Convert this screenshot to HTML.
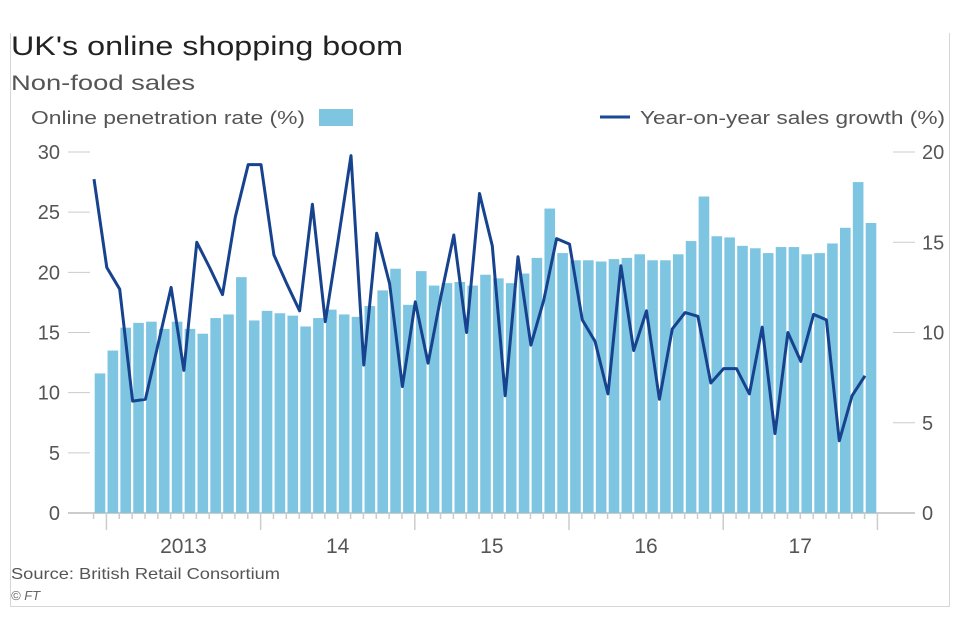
<!DOCTYPE html>
<html><head><meta charset="utf-8"><style>
body{margin:0;background:#fff;width:960px;height:640px;overflow:hidden;font-family:"Liberation Sans",sans-serif}
#frame{position:absolute;left:10px;top:33px;width:938px;height:573px;border:1px solid #d6d6d6;border-top:none}
svg{position:absolute;left:0;top:0}
</style></head><body>
<div id="frame"></div>
<svg id="chart" width="960" height="640">
<text x="11" y="55" font-size="27" fill="#222" textLength="392" lengthAdjust="spacingAndGlyphs">UK's online shopping boom</text>
<text x="11" y="90" font-size="21" fill="#555" textLength="184" lengthAdjust="spacingAndGlyphs">Non-food sales</text>
<g>
<text x="31" y="124" font-size="18" fill="#555" textLength="274" lengthAdjust="spacingAndGlyphs">Online penetration rate (%)</text>
<rect x="319" y="109" width="34" height="17" fill="#7ec5e2"/>
</g>
<g>
<line x1="600" y1="117" x2="630" y2="117" stroke="#1a4a93" stroke-width="3"/>
<text x="640" y="124" font-size="18" fill="#555" textLength="305" lengthAdjust="spacingAndGlyphs">Year-on-year sales growth (%)</text>
</g>
<g id="axes"></g>
<g id="bars"></g>
<g id="lineg"></g>
<text x="11" y="579" font-size="16" fill="#555" textLength="269" lengthAdjust="spacingAndGlyphs">Source: British Retail Consortium</text>
<text x="11" y="600" font-size="13" fill="#666" font-style="italic">© FT</text>
</svg>
<script>
const penetration=[11.6,13.5,15.4,15.8,15.9,15.3,15.9,15.3,14.9,16.2,16.5,19.6,16.0,16.8,16.6,16.4,15.5,16.2,16.9,16.5,16.3,17.2,18.5,20.3,17.3,20.1,18.9,19.1,19.2,18.9,19.8,19.5,19.1,19.9,21.2,25.3,21.6,21.0,21.0,20.9,21.1,21.2,21.5,21.0,21.0,21.5,22.6,26.3,23.0,22.9,22.2,22.0,21.6,22.1,22.1,21.5,21.6,22.4,23.7,27.5,24.1];
const growth=[18.5,13.6,12.4,6.2,6.3,9.4,12.5,7.9,15.0,13.6,12.1,16.4,19.3,19.3,14.3,12.7,11.2,17.1,10.6,15.1,19.8,8.2,15.5,12.7,7.0,11.7,8.3,12.0,15.4,10.0,17.7,14.8,6.5,14.2,9.3,11.8,15.2,14.9,10.7,9.5,6.6,13.7,9.0,11.2,6.3,10.2,11.1,10.9,7.2,8.0,8.0,6.6,10.3,4.4,10.0,8.4,11.0,10.7,4.0,6.5,7.6];
const leftTicks=[0,5,10,15,20,25,30];
const rightTicks=[0,5,10,15,20];
const yearLabels=["2013","14","15","16","17"];
const NS="http://www.w3.org/2000/svg";
const x0=100,step=12.85,base=513;
const yL=v=>base-v*(361/30);
const yR=v=>base-v*(361/20);
const xB=i=>x0+i*step;
function mk(tag,attrs,parent){const e=document.createElementNS(NS,tag);for(const k in attrs)e.setAttribute(k,attrs[k]);parent.appendChild(e);return e;}
const ax=document.getElementById('axes');
leftTicks.forEach(t=>{
 const tl=mk('line',{x1:68,x2:90,y1:yL(t),y2:yL(t),stroke:'#ccc','stroke-width':1},ax);
 
 
 const tx=mk('text',{x:60,y:yL(t)+7,'text-anchor':'end','font-size':20,fill:'#555'},ax);
 tx.textContent=t;
 
 
});
rightTicks.forEach(t=>{
 if(t>0){const tl=mk('line',{x1:893,x2:915,y1:yR(t),y2:yR(t),stroke:'#ccc','stroke-width':1},ax);
 
 }
 const tx=mk('text',{x:922,y:yR(t)+7,'font-size':20,fill:'#555'},ax);
 tx.textContent=t;
 
 
});
const bl=mk('line',{x1:68,x2:915,y1:base,y2:base,stroke:'#bbb','stroke-width':1.5},ax);


for(let i=0;i<=penetration.length;i++){
 const x=xB(i)-step/2;const yr=(i%12===1);
 const m=mk('line',{x1:x,x2:x,y1:base,y2:base+(yr?17:6),stroke:'#ccc','stroke-width':1.5},ax);
 
 
}
yearLabels.forEach((l,k)=>{
 const x=xB(1+k*12)-step/2+77;
 const t=mk('text',{x:x,y:553,'text-anchor':'middle','font-size':21,fill:'#555'},ax);
 t.textContent=l;
 
 
});
const bg=document.getElementById('bars');
penetration.forEach((v,i)=>{
 const r=mk('rect',{x:xB(i)-5.3,y:yL(v),width:10.6,height:base-yL(v),fill:'#7ec5e2'},bg);
 
 
});
const lg=document.getElementById('lineg');
const pts=growth.map((v,i)=>(xB(i)-6).toFixed(1)+','+yR(v).toFixed(1)).join(' ');
const pl=mk('polyline',{points:pts,fill:'none',stroke:'#17428e','stroke-width':3,'stroke-linejoin':'round'},lg);


</script>
</body></html>
